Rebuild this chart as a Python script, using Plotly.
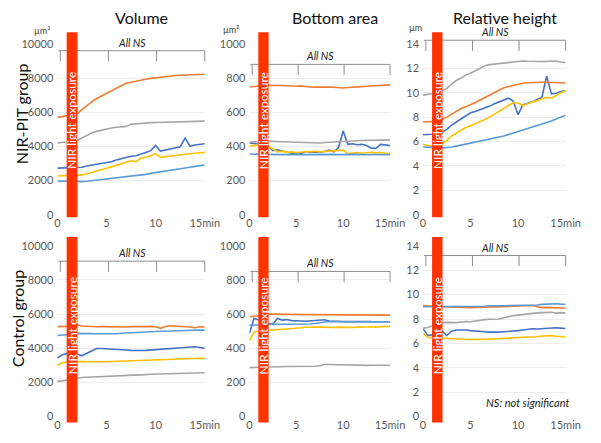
import plotly.graph_objects as go
from plotly.subplots import make_subplots

W, H = 601, 443

TIME = [0, 0.5, 1, 1.5, 2, 2.5, 3, 3.5, 4, 4.5, 5, 5.5, 6, 6.5, 7, 7.5, 8, 8.5,
        9, 9.5, 10, 10.5, 11, 11.5, 12, 12.5, 13, 13.5, 14, 14.5, 15]
X_TICKS = [0, 5, 10, 15]
X_TICKTEXT = ["0", "5", "10", "15min"]

# ---------------- NIR-PIT group ----------------
VOL_NIR_BLUE = [2730, 2740, 2750, 2760, 2770, 2780, 2850, 2900, 2950, 3000, 3050, 3100, 3200, 3280, 3350, 3420,
                3450, 3530, 3640, 3750, 4050, 3730, 3800, 3880, 3920, 3980, 4480, 4000, 4080, 4130, 4150]
VOL_NIR_ORANGE = [5700, 5750, 5800, 5850, 5900, 6150, 6400, 6600, 6800, 6950, 7100, 7250, 7400, 7550, 7700, 7750,
                  7820, 7880, 7930, 7980, 8020, 8060, 8100, 8130, 8150, 8160, 8170, 8180, 8190, 8200, 8220]
VOL_NIR_GRAY = [4200, 4220, 4250, 4300, 4350, 4500, 4650, 4780, 4880, 4960, 5020, 5080, 5120, 5150, 5170, 5300,
                5330, 5350, 5370, 5390, 5400, 5410, 5420, 5420, 5430, 5440, 5440, 5450, 5470, 5480, 5480]
VOL_NIR_YELLOW = [2270, 2280, 2290, 2300, 2310, 2330, 2400, 2470, 2560, 2640, 2720, 2800, 2900, 2980, 3060, 3160,
                  3100, 3300, 3380, 3450, 3580, 3360, 3400, 3440, 3470, 3500, 3530, 3560, 3600, 3630, 3650]
VOL_NIR_LIGHTBLUE = [1970, 1960, 1950, 1940, 1930, 1940, 1960, 1990, 2020, 2060, 2090, 2110, 2140, 2170, 2200, 2230,
                     2270, 2310, 2360, 2420, 2460, 2510, 2550, 2580, 2630, 2680, 2730, 2780, 2830, 2870, 2910]

AREA_NIR_BLUE = [420, 418, 415, 410, 400, 375, 380, 372, 368, 360, 362, 358, 370, 365, 368, 364,
                 370, 378, 368, 393, 490, 412, 415, 410, 412, 405, 390, 388, 412, 408, 405]
AREA_NIR_ORANGE = [748, 752, 755, 756, 757, 758, 755, 756, 755, 753, 752, 754, 750, 748, 747, 748,
                   746, 747, 746, 744, 742, 745, 748, 749, 750, 752, 753, 755, 757, 759, 760]
AREA_NIR_GRAY = [425, 428, 430, 430, 430, 429, 428, 428, 427, 426, 424, 422, 420, 418, 417, 420,
                 423, 425, 427, 428, 430, 431, 432, 433, 434, 435, 435, 436, 437, 438, 438]
AREA_NIR_YELLOW = [400, 405, 410, 410, 400, 385, 368, 372, 365, 368, 362, 366, 370, 368, 372, 368,
                   370, 373, 375, 380, 378, 358, 362, 364, 360, 363, 366, 362, 364, 360, 358]
AREA_NIR_LIGHTBLUE = [355, 354, 353, 353, 352, 352, 353, 352, 352, 353, 352, 353, 352, 352, 353, 352,
                      352, 353, 353, 352, 353, 353, 352, 353, 352, 352, 353, 352, 352, 353, 352]

HEIGHT_NIR_BLUE = [6.55, 6.55, 6.6, 6.65, 6.75, 7.0, 7.35, 7.6, 7.85, 8.1, 8.35, 8.45, 8.6, 8.72, 8.9, 9.1,
                   9.25, 9.45, 9.55, 9.3, 8.2, 9.0, 9.1, 9.25, 9.45, 9.6, 11.35, 9.9, 9.95, 10.1, 10.15]
HEIGHT_NIR_ORANGE = [7.6, 7.6, 7.65, 7.7, 7.8, 8.0, 8.25, 8.5, 8.7, 8.85, 9.0, 9.2, 9.4, 9.6, 9.8, 10.0,
                     10.25, 10.4, 10.5, 10.6, 10.7, 10.78, 10.82, 10.85, 10.85, 10.85, 10.85, 10.83, 10.82, 10.8, 10.8]
HEIGHT_NIR_GRAY = [9.8, 9.85, 9.9, 10.0, 10.15, 10.35, 10.7, 11.0, 11.2, 11.45, 11.6, 11.8, 12.0, 12.2, 12.3, 12.35,
                   12.4, 12.45, 12.5, 12.55, 12.6, 12.6, 12.58, 12.55, 12.55, 12.55, 12.55, 12.6, 12.58, 12.5, 12.45]
HEIGHT_NIR_YELLOW = [5.75, 5.65, 5.6, 5.6, 5.8, 6.1, 6.45, 6.7, 6.95, 7.15, 7.3, 7.45, 7.6, 7.8, 8.0, 8.25,
                     8.5, 8.75, 8.95, 9.2, 9.15, 8.95, 9.1, 9.2, 9.35, 9.5, 9.6, 9.55, 9.8, 10.0, 10.15]
HEIGHT_NIR_LIGHTBLUE = [5.55, 5.55, 5.5, 5.5, 5.48, 5.5, 5.55, 5.62, 5.7, 5.8, 5.88, 5.95, 6.03, 6.1, 6.18, 6.25,
                        6.35, 6.45, 6.58, 6.7, 6.8, 6.92, 7.05, 7.15, 7.3, 7.42, 7.55, 7.68, 7.85, 8.0, 8.15]

# ---------------- Control group ----------------
VOL_CTRL_BLUE = [3430, 3620, 3700, 3680, 3670, 3560, 3700, 3850, 3990, 3990, 3980, 3960, 3950, 3940, 3900, 3880,
                 3860, 3870, 3880, 3900, 3920, 3940, 3960, 3970, 3980, 4000, 4040, 4060, 4090, 4050, 4000]
VOL_CTRL_ORANGE = [5270, 5270, 5280, 5350, 5380, 5300, 5280, 5270, 5260, 5270, 5260, 5250, 5270, 5260, 5250, 5270,
                   5260, 5280, 5270, 5280, 5260, 5170, 5280, 5320, 5290, 5270, 5260, 5250, 5200, 5260, 5250]
VOL_CTRL_GRAY = [2050, 2100, 2150, 2200, 2260, 2290, 2300, 2310, 2320, 2340, 2350, 2360, 2370, 2380, 2400, 2420,
                 2430, 2450, 2460, 2480, 2490, 2500, 2510, 2520, 2520, 2530, 2520, 2540, 2560, 2570, 2570]
VOL_CTRL_YELLOW = [2990, 3150, 3200, 3220, 3240, 3230, 3220, 3210, 3200, 3200, 3210, 3230, 3240, 3250, 3270, 3280,
                   3290, 3300, 3310, 3320, 3330, 3330, 3340, 3350, 3370, 3390, 3410, 3430, 3440, 3420, 3410]
VOL_CTRL_LIGHTBLUE = [4750, 4760, 4780, 4820, 4870, 4880, 4870, 4860, 4850, 4840, 4830, 4860, 4850, 4880, 4900, 4920,
                      4930, 4960, 4970, 4980, 4990, 5000, 5000, 5010, 5020, 5020, 5040, 5060, 5090, 5070, 5060]

AREA_CTRL_BLUE = [487, 575, 565, 555, 545, 540, 575, 565, 568, 562, 563, 560, 558, 560, 562, 565,
                  567, 560, 557, 558, 556, 557, 556, 555, 556, 557, 556, 555, 556, 555, 555]
AREA_CTRL_ORANGE = [585, 586, 590, 595, 600, 600, 599, 599, 598, 598, 598, 597, 597, 597, 597, 596,
                    596, 596, 596, 595, 595, 595, 595, 595, 594, 594, 594, 594, 594, 594, 594]
AREA_CTRL_GRAY = [287, 288, 290, 292, 293, 293, 293, 293, 293, 293, 293, 294, 294, 294, 295, 298,
                  305, 305, 304, 303, 302, 302, 302, 301, 301, 300, 301, 301, 302, 301, 301]
AREA_CTRL_YELLOW = [445, 495, 500, 502, 503, 505, 508, 512, 510, 515, 518, 520, 523, 526, 525, 524,
                    522, 520, 522, 524, 522, 520, 522, 524, 523, 525, 526, 524, 527, 528, 528]
AREA_CTRL_LIGHTBLUE = [535, 535, 537, 538, 540, 540, 541, 541, 540, 540, 541, 540, 541, 542, 545, 550,
                       556, 557, 556, 556, 555, 555, 556, 556, 555, 555, 556, 556, 556, 555, 555]

HEIGHT_CTRL_BLUE = [7.2, 6.65, 6.7, 6.85, 7.0, 6.65, 7.0, 7.1, 7.12, 7.1, 7.05, 7.0, 6.98, 6.95, 6.92, 6.9,
                    6.92, 6.95, 6.97, 7.0, 7.05, 7.1, 7.15, 7.2, 7.18, 7.2, 7.25, 7.3, 7.28, 7.25, 7.22]
HEIGHT_CTRL_ORANGE = [9.1, 9.05, 9.03, 9.0, 9.0, 8.98, 8.95, 8.95, 8.94, 8.95, 8.93, 8.94, 8.95, 8.95, 8.97, 8.98,
                      9.0, 9.02, 9.0, 9.02, 9.03, 9.05, 9.07, 9.1, 9.0, 8.93, 8.95, 8.93, 8.92, 8.9, 8.88]
HEIGHT_CTRL_GRAY = [7.25, 7.3, 7.45, 7.6, 7.7, 7.72, 7.68, 7.7, 7.75, 7.8, 7.78, 7.85, 7.9, 7.95, 7.98, 7.97,
                    8.0, 8.1, 8.2, 8.28, 8.32, 8.38, 8.42, 8.45, 8.5, 8.52, 8.55, 8.55, 8.48, 8.52, 8.48]
HEIGHT_CTRL_YELLOW = [6.85, 6.5, 6.45, 6.45, 6.42, 6.4, 6.38, 6.35, 6.33, 6.32, 6.33, 6.32, 6.35, 6.33, 6.35, 6.38,
                      6.4, 6.42, 6.43, 6.45, 6.48, 6.5, 6.5, 6.52, 6.55, 6.6, 6.62, 6.65, 6.58, 6.55, 6.53]
HEIGHT_CTRL_LIGHTBLUE = [9.0, 9.0, 9.02, 9.03, 9.05, 9.05, 9.05, 9.05, 9.03, 9.02, 9.0, 9.02, 9.05, 9.05, 9.08, 9.06,
                         9.05, 9.08, 9.1, 9.1, 9.12, 9.12, 9.15, 9.13, 9.15, 9.2, 9.22, 9.28, 9.25, 9.22, 9.2]

TITLES = ["Volume", "Bottom area", "Relative height"]
UNITS = ["µm³", "µm²", "µm"]
ROW_LABELS = ["NIR-PIT group", "Control group"]
Y_MAX = [10000, 1000, 14]
Y_DTICK = [2000, 200, 2]
NIR_START, NIR_END = 0.95, 2.05          # minutes of NIR light exposure
NS_FROM, NS_TO = 0.1, 15
NS_TICKS = [0.3, 5.2, 10.1, 15]
NS_LEVEL = [9600, 880, 14.3, 9100, 850, 13.2]

COLORS = {"blue": "#4472C4", "orange": "#ED7D31", "gray": "#A5A5A5",
          "yellow": "#FFC000", "lightblue": "#5B9BD5"}

PANELS = [
    {"blue": VOL_NIR_BLUE, "orange": VOL_NIR_ORANGE, "gray": VOL_NIR_GRAY,
     "yellow": VOL_NIR_YELLOW, "lightblue": VOL_NIR_LIGHTBLUE},
    {"blue": AREA_NIR_BLUE, "orange": AREA_NIR_ORANGE, "gray": AREA_NIR_GRAY,
     "yellow": AREA_NIR_YELLOW, "lightblue": AREA_NIR_LIGHTBLUE},
    {"blue": HEIGHT_NIR_BLUE, "orange": HEIGHT_NIR_ORANGE, "gray": HEIGHT_NIR_GRAY,
     "yellow": HEIGHT_NIR_YELLOW, "lightblue": HEIGHT_NIR_LIGHTBLUE},
    {"blue": VOL_CTRL_BLUE, "orange": VOL_CTRL_ORANGE, "gray": VOL_CTRL_GRAY,
     "yellow": VOL_CTRL_YELLOW, "lightblue": VOL_CTRL_LIGHTBLUE},
    {"blue": AREA_CTRL_BLUE, "orange": AREA_CTRL_ORANGE, "gray": AREA_CTRL_GRAY,
     "yellow": AREA_CTRL_YELLOW, "lightblue": AREA_CTRL_LIGHTBLUE},
    {"blue": HEIGHT_CTRL_BLUE, "orange": HEIGHT_CTRL_ORANGE, "gray": HEIGHT_CTRL_GRAY,
     "yellow": HEIGHT_CTRL_YELLOW, "lightblue": HEIGHT_CTRL_LIGHTBLUE},
]

FONT = "Lato, 'Open Sans', Arial, sans-serif"
COL_PX = [(56, 208), (254, 399), (433, 580)]
ROW_PX = [(38, 214), (246, 422)]

fig = make_subplots(rows=2, cols=3)

shapes = []
annotations = []
xr = (TIME[0], TIME[-1])


def xd(t):
    return (t - xr[0]) / (xr[1] - xr[0])


for i, panel in enumerate(PANELS):
    r, c = i // 3, i % 3
    for key in ["blue", "orange", "gray", "yellow", "lightblue"]:
        fig.add_trace(go.Scatter(x=TIME, y=panel[key], mode="lines",
                                 line=dict(color=COLORS[key], width=1.6),
                                 showlegend=False, hoverinfo="skip"),
                      row=r + 1, col=c + 1)
    x0, x1 = COL_PX[c]
    y0, y1 = ROW_PX[r]
    fig.update_xaxes(domain=[x0 / W, x1 / W], range=list(xr), tickvals=X_TICKS, ticktext=X_TICKTEXT,
                     showgrid=False, zeroline=False, showline=False, ticks="",
                     tickfont=dict(family=FONT, size=11, color="#595959"), row=r + 1, col=c + 1)
    fig.update_yaxes(domain=[1 - y1 / H, 1 - y0 / H], range=[0, Y_MAX[c]], dtick=Y_DTICK[c], tick0=0,
                     tickformat="d", showgrid=True, gridcolor="#EDEDED", gridwidth=1,
                     zeroline=False, showline=False, ticks="", ticklabelstandoff=3,
                     tickfont=dict(family=FONT, size=11, color="#595959"), row=r + 1, col=c + 1)

    s = "" if i == 0 else str(i + 1)
    xref, yref = f"x{s} domain", f"y{s} domain"
    dom_h = y1 - y0

    # NS bracket
    lvl = NS_LEVEL[i] / Y_MAX[c]
    tick = 11 / dom_h
    shapes.append(dict(type="line", xref=xref, yref=yref, x0=xd(NS_FROM), x1=xd(NS_TO), y0=lvl, y1=lvl,
                       line=dict(color="#8C8C8C", width=1)))
    for t in NS_TICKS:
        shapes.append(dict(type="line", xref=xref, yref=yref, x0=xd(t), x1=xd(t), y0=lvl, y1=lvl - tick,
                           line=dict(color="#8C8C8C", width=1)))
    annotations.append(dict(text="<i>All NS</i>", xref=xref, yref=yref, x=xd((NS_FROM + NS_TO) / 2),
                            y=lvl, xanchor="center", yanchor="bottom", showarrow=False,
                            font=dict(family=FONT, size=10.5, color="#222222")))

    # NIR exposure bar
    top = 1.068 if r == 0 else 1.052
    bot = -0.015 if r == 0 else -0.035
    shapes.append(dict(type="rect", xref=xref, yref=yref, x0=xd(NIR_START), x1=xd(NIR_END),
                       y0=bot, y1=top, fillcolor="#FF3300", line=dict(width=0), layer="above"))
    annotations.append(dict(text="NIR light exposure", xref=xref, yref=yref,
                            x=xd((NIR_START + NIR_END) / 2), y=(0.55 if r == 0 else 0.53),
                            textangle=-90, showarrow=False, xanchor="center", yanchor="middle",
                            font=dict(family=FONT, size=12, color="white")))

# Titles, units, row labels
TITLE_X = [143, 342, 517]
for c in range(3):
    annotations.append(dict(text=TITLES[c], xref="paper", yref="paper", x=TITLE_X[c] / W, y=1 - 11 / H,
                            showarrow=False, xanchor="center", yanchor="middle",
                            font=dict(family=FONT, size=16, color="#111111")))
UNIT_X = [51, 245, 434]
UNIT_Y = [24, 23, 21]
for c in range(3):
    annotations.append(dict(text=UNITS[c], xref="paper", yref="paper", x=UNIT_X[c] / W, y=1 - UNIT_Y[c] / H,
                            showarrow=False, xanchor="right", yanchor="middle",
                            font=dict(family=FONT, size=9, color="#404040")))
ROW_Y = [110, 321]
ROW_X = [19, 15]
for r in range(2):
    annotations.append(dict(text=ROW_LABELS[r], xref="paper", yref="paper", x=ROW_X[r] / W, y=1 - ROW_Y[r] / H,
                            textangle=-90, showarrow=False, xanchor="center", yanchor="middle",
                            font=dict(family=FONT, size=16, color="#111111")))
annotations.append(dict(text="<i>NS: not significant</i>", xref="paper", yref="paper", x=586 / W, y=1 - 407 / H,
                        showarrow=False, xanchor="right", yanchor="middle",
                        font=dict(family=FONT, size=11, color="#222222")))

fig.update_layout(width=W, height=H, margin=dict(l=0, r=0, t=0, b=0),
                  paper_bgcolor="white", plot_bgcolor="white",
                  shapes=shapes, annotations=annotations, showlegend=False)

fig.write_html("out.html", config={"displayModeBar": False},
               post_script="document.body.style.margin='0';document.body.style.overflow='hidden';")
